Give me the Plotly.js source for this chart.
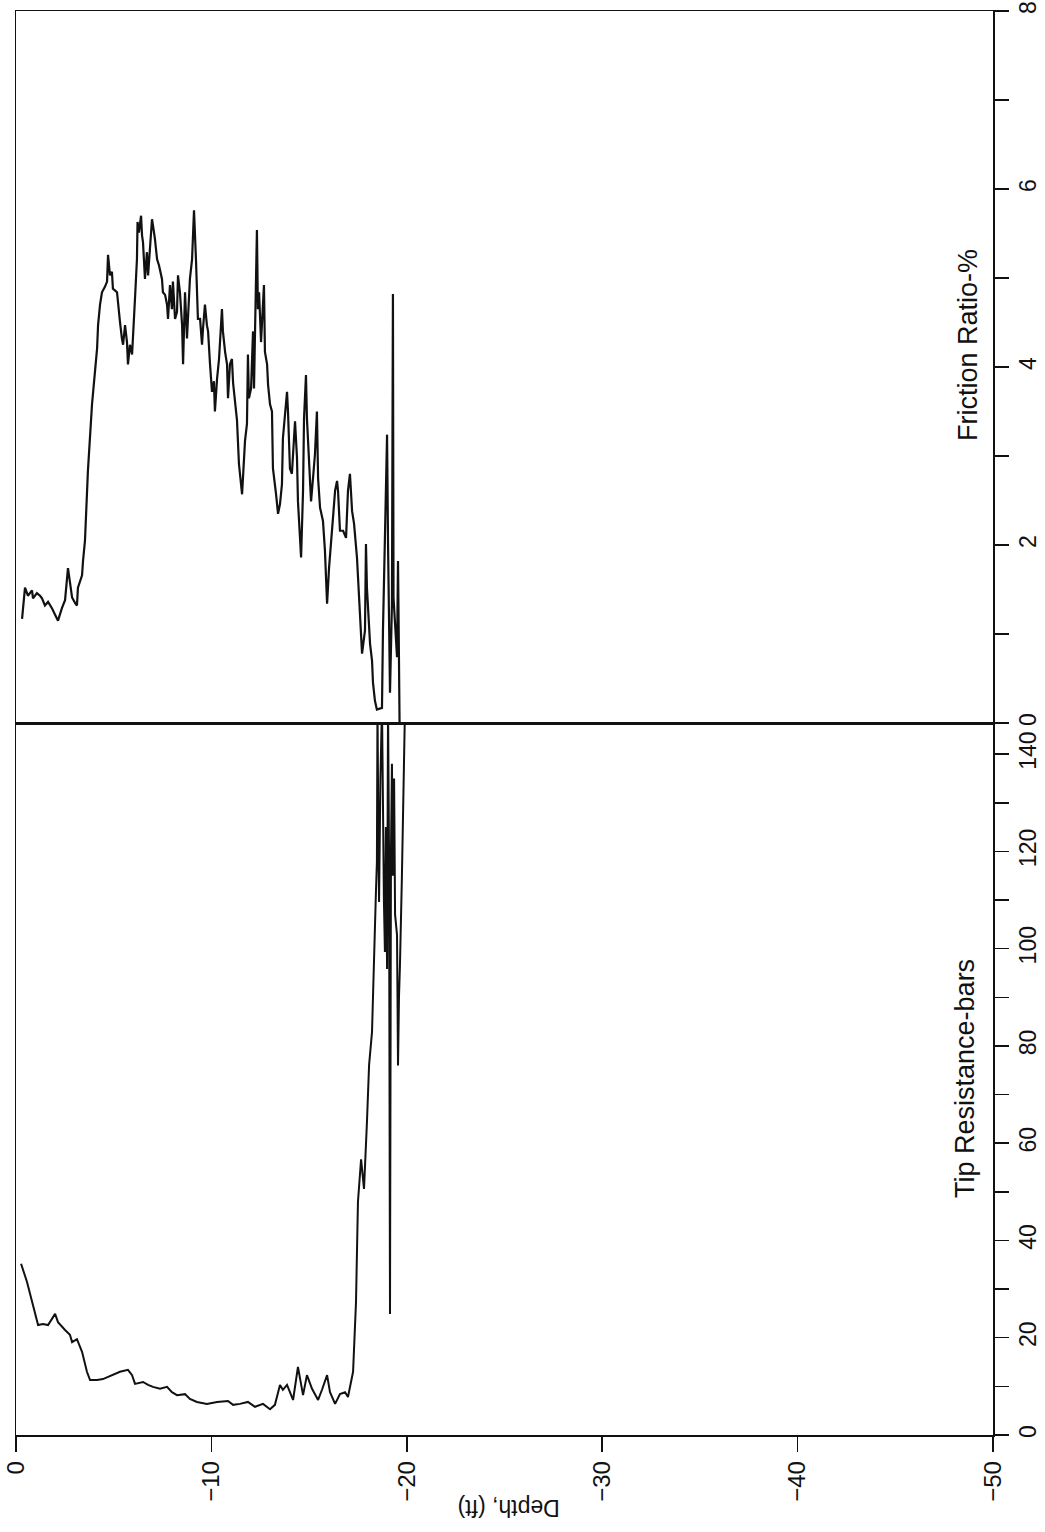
<!DOCTYPE html>
<html>
<head>
<meta charset="utf-8">
<script src="https://cdn.plot.ly/plotly-3.0.1.min.js"></script>
<style>html,body{margin:0;padding:0;background:#fff;}#chart{width:1045px;height:1532px;}</style>
</head>
<body>
<div id="chart"></div>
<script>
// Friction ratio (%) vs depth (ft)
var frDepth = [-0.31,-0.46,-0.61,-0.82,-0.87,-1.07,-1.23,-1.33,-1.48,-1.64,-1.84,-2.00,-2.15,-2.35,-2.51,-2.66,-2.87,-3.02,-3.12,-3.17,-3.38,-3.43,-3.53,-3.68,-3.89,-4.15,-4.20,-4.30,-4.40,-4.55,-4.66,-4.71,-4.81,-4.91,-4.96,-5.17,-5.22,-5.32,-5.42,-5.48,-5.58,-5.68,-5.73,-5.83,-5.94,-5.99,-6.09,-6.19,-6.22,-6.29,-6.40,-6.45,-6.50,-6.60,-6.70,-6.76,-6.86,-6.96,-7.01,-7.11,-7.22,-7.32,-7.47,-7.52,-7.63,-7.73,-7.78,-7.88,-7.98,-8.03,-8.14,-8.24,-8.29,-8.39,-8.50,-8.55,-8.65,-8.75,-8.80,-8.90,-9.01,-9.06,-9.11,-9.21,-9.26,-9.31,-9.42,-9.52,-9.57,-9.67,-9.77,-9.83,-9.93,-10.03,-10.13,-10.18,-10.29,-10.39,-10.54,-10.59,-10.70,-10.80,-10.85,-10.95,-11.05,-11.11,-11.31,-11.41,-11.57,-11.62,-11.72,-11.82,-11.87,-11.92,-12.03,-12.13,-12.18,-12.23,-12.33,-12.38,-12.44,-12.54,-12.59,-12.69,-12.74,-12.85,-12.90,-13.00,-13.10,-13.15,-13.31,-13.41,-13.51,-13.61,-13.66,-13.77,-13.87,-13.92,-14.02,-14.12,-14.18,-14.28,-14.38,-14.43,-14.59,-14.69,-14.74,-14.84,-14.89,-15.00,-15.10,-15.20,-15.30,-15.40,-15.46,-15.56,-15.71,-15.81,-15.92,-16.02,-16.17,-16.22,-16.33,-16.43,-16.48,-16.58,-16.74,-16.89,-16.99,-17.09,-17.20,-17.30,-17.45,-17.55,-17.71,-17.86,-17.91,-17.96,-18.12,-18.22,-18.27,-18.37,-18.47,-18.73,-18.78,-18.88,-18.99,-19.04,-19.14,-19.24,-19.29,-19.32,-19.40,-19.50,-19.55,-19.57,-19.60,-19.63];
var frValue = [1.17,1.52,1.43,1.49,1.40,1.46,1.43,1.40,1.32,1.36,1.29,1.21,1.15,1.29,1.38,1.74,1.41,1.35,1.32,1.52,1.66,1.82,2.05,2.83,3.58,4.21,4.47,4.70,4.84,4.90,4.96,5.26,5.03,5.07,4.88,4.84,4.70,4.51,4.32,4.25,4.47,4.28,4.03,4.25,4.14,4.40,4.77,5.21,5.63,5.51,5.70,5.48,5.40,4.99,5.29,5.03,5.40,5.66,5.59,5.44,5.21,5.14,4.99,4.84,4.81,4.70,4.54,4.92,4.65,4.96,4.54,4.62,5.03,4.84,4.47,4.03,4.84,4.32,4.54,4.99,5.21,5.51,5.76,5.21,4.92,4.54,4.54,4.25,4.43,4.70,4.47,4.40,4.03,3.72,3.84,3.50,3.87,4.09,4.65,4.40,4.17,4.03,3.65,4.03,4.09,3.82,3.40,2.91,2.57,2.75,3.17,3.36,4.14,3.65,3.76,4.40,3.76,4.36,5.54,4.65,4.84,4.28,4.47,4.92,4.17,4.03,3.80,3.58,3.50,2.86,2.57,2.35,2.46,2.68,3.20,3.53,3.72,3.50,2.86,2.80,3.05,3.39,2.98,2.49,1.86,2.61,3.42,3.91,3.42,2.86,2.49,2.75,3.02,3.50,2.75,2.42,2.27,1.94,1.34,1.74,2.24,2.30,2.61,2.72,2.61,2.16,2.16,2.08,2.61,2.80,2.38,2.24,1.86,1.45,0.78,1.04,2.01,1.52,0.89,0.70,0.45,0.25,0.15,0.17,1.04,2.08,3.24,2.01,0.34,1.34,4.82,1.41,1.04,0.74,1.82,0.93,0.70,0.0];

// Tip resistance (bars) vs depth (ft)
var tipDepth = [-0.26,-0.56,-0.87,-1.13,-1.38,-1.64,-2.00,-2.15,-2.51,-2.76,-2.87,-3.12,-3.38,-3.63,-3.79,-4.15,-4.45,-4.96,-5.32,-5.73,-5.94,-6.09,-6.50,-6.76,-7.01,-7.37,-7.73,-7.98,-8.24,-8.65,-8.90,-9.26,-9.77,-10.29,-10.85,-11.11,-11.46,-11.87,-12.23,-12.64,-13.00,-13.25,-13.51,-13.66,-13.87,-14.18,-14.43,-14.69,-14.89,-15.15,-15.46,-15.66,-15.92,-16.07,-16.33,-16.58,-16.84,-16.99,-17.25,-17.40,-17.50,-17.66,-17.81,-17.96,-18.07,-18.22,-18.27,-18.32,-18.42,-18.47,-18.50,-18.55,-18.58,-18.65,-18.73,-18.83,-18.88,-18.93,-18.99,-19.04,-19.09,-19.14,-19.19,-19.24,-19.29,-19.35,-19.40,-19.50,-19.55,-19.60,-19.65,-19.75,-19.80,-19.86,-19.91];
var tipValue = [35.2,31.5,26.7,22.6,22.8,22.6,24.9,23.2,21.6,20.6,19.1,19.7,17.1,13.0,11.3,11.3,11.5,12.3,13.0,13.4,12.3,10.5,10.9,10.3,9.9,9.5,9.9,8.8,8.2,8.4,7.4,6.8,6.4,6.8,7.0,6.2,6.4,6.8,5.8,6.4,5.3,6.2,10.3,9.3,10.3,7.2,14.0,8.2,12.3,9.5,7.2,9.3,12.3,8.8,6.4,8.4,8.8,7.8,13.0,27.3,47.9,56.7,50.6,64.3,76.1,82.9,91.1,101.4,111.6,117.8,150,120,109.6,135,150,109.6,99.3,125,95.8,150,120,24.9,120,138,115,135,107,102.8,76,90,96.6,115,126,135,150];

// Axis ticks and labels
var depthTicks = [0,-10,-20,-30,-40,-50];
var frTicks = [0,1,2,3,4,5,6,7,8];
var frTickText = ['0','','2','','4','','6','','8'];
var tipTicks = [0,10,20,30,40,50,60,70,80,90,100,110,120,130,140];
var tipTickText = ['0','','20','','40','','60','','80','','100','','120','','140'];

var FONT = 'Liberation Sans, Arial, Helvetica, sans-serif';
var INK = '#111111';

var traces = [
  {x: frDepth, y: frValue, xaxis: 'x2', yaxis: 'y2', type: 'scatter', mode: 'lines',
   line: {color: INK, width: 2.2}, hoverinfo: 'skip'},
  {x: tipDepth, y: tipValue, xaxis: 'x', yaxis: 'y', type: 'scatter', mode: 'lines',
   line: {color: INK, width: 2}, hoverinfo: 'skip'}
];

var plotH = 1532 - 11 - 97;
var split = 712 / plotH;

var layout = {
  width: 1045, height: 1532,
  margin: {l: 16, r: 52, t: 11, b: 97},
  paper_bgcolor: '#ffffff', plot_bgcolor: '#ffffff',
  showlegend: false,
  font: {family: FONT, color: INK, size: 24},
  xaxis: {
    domain: [0, 1], anchor: 'y', range: [0, -50],
    tickmode: 'array', tickvals: depthTicks, tickangle: -90,
    ticks: 'outside', ticklen: 15, tickwidth: 1.5, tickcolor: INK,
    showline: true, linecolor: INK, linewidth: 1.5, mirror: true,
    showgrid: false, zeroline: false, ticklabeloverflow: 'allow',
    tickfont: {family: FONT, size: 24, color: INK}
  },
  xaxis2: {
    domain: [0, 1], anchor: 'y2', range: [0, -50], matches: 'x',
    showticklabels: false, ticks: '',
    showline: true, linecolor: INK, linewidth: 1.5, mirror: true,
    showgrid: false, zeroline: false
  },
  yaxis: {
    domain: [0, split], anchor: 'x', side: 'right', range: [0, 146.4],
    tickmode: 'array', tickvals: tipTicks, ticktext: tipTickText, tickangle: -90,
    ticks: 'outside', ticklen: 14, tickwidth: 1.5, tickcolor: INK,
    showline: true, linecolor: INK, linewidth: 1.5, mirror: true,
    showgrid: false, zeroline: false, ticklabeloverflow: 'allow',
    tickfont: {family: FONT, size: 23, color: INK}
  },
  yaxis2: {
    domain: [split, 1], anchor: 'x2', side: 'right', range: [0, 8],
    tickmode: 'array', tickvals: frTicks, ticktext: frTickText, tickangle: -90,
    ticks: 'outside', ticklen: 14, tickwidth: 1.5, tickcolor: INK,
    showline: true, linecolor: INK, linewidth: 1.5, mirror: true,
    showgrid: false, zeroline: false, ticklabeloverflow: 'allow',
    tickfont: {family: FONT, size: 23, color: INK}
  },
  annotations: [
    {text: 'Friction Ratio-%', xref: 'paper', yref: 'paper', x: 0.9744, y: (1435 - 345) / plotH,
     xanchor: 'center', yanchor: 'middle',
     textangle: -90, showarrow: false, font: {family: FONT, size: 27, color: INK}},
    {text: 'Tip Resistance-bars', xref: 'paper', yref: 'paper', x: 0.9713, y: (1435 - 1078) / plotH,
     xanchor: 'center', yanchor: 'middle',
     textangle: -90, showarrow: false, font: {family: FONT, size: 27, color: INK}},
    {text: 'Depth, (ft)', xref: 'paper', yref: 'paper', x: 0.504, y: (1435 - 1508) / plotH,
     xanchor: 'center', yanchor: 'middle',
     textangle: 180, showarrow: false, font: {family: FONT, size: 23, color: INK}}
  ]
};

Plotly.newPlot('chart', traces, layout, {displayModeBar: false, staticPlot: true});
</script>
</body>
</html>
